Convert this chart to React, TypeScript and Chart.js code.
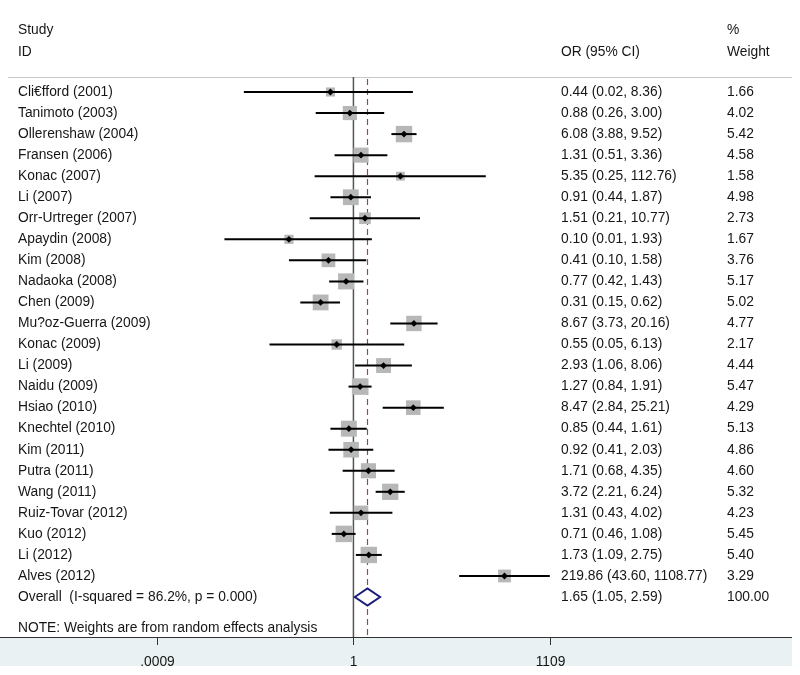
import React, { useEffect, useRef } from "react";
import { Chart, registerables } from "chart.js";

Chart.register(...registerables);

const studies = [
  "Cli€fford (2001)", "Tanimoto (2003)", "Ollerenshaw (2004)", "Fransen (2006)", "Konac (2007)",
  "Li (2007)", "Orr-Urtreger (2007)", "Apaydin (2008)", "Kim (2008)", "Nadaoka (2008)",
  "Chen (2009)", "Mu?oz-Guerra (2009)", "Konac (2009)", "Li (2009)", "Naidu (2009)",
  "Hsiao (2010)", "Knechtel (2010)", "Kim (2011)", "Putra (2011)", "Wang (2011)",
  "Ruiz-Tovar (2012)", "Kuo (2012)", "Li (2012)", "Alves (2012)",
];
const oddsRatio = [0.44, 0.88, 6.08, 1.31, 5.35, 0.91, 1.51, 0.10, 0.41, 0.77, 0.31, 8.67, 0.55, 2.93, 1.27, 8.47, 0.85, 0.92, 1.71, 3.72, 1.31, 0.71, 1.73, 219.86];
const ciLow = [0.02, 0.26, 3.88, 0.51, 0.25, 0.44, 0.21, 0.01, 0.10, 0.42, 0.15, 3.73, 0.05, 1.06, 0.84, 2.84, 0.44, 0.41, 0.68, 2.21, 0.43, 0.46, 1.09, 43.60];
const ciHigh = [8.36, 3.00, 9.52, 3.36, 112.76, 1.87, 10.77, 1.93, 1.58, 1.43, 0.62, 20.16, 6.13, 8.06, 1.91, 25.21, 1.61, 2.03, 4.35, 6.24, 4.02, 1.08, 2.75, 1108.77];
const weights = [1.66, 4.02, 5.42, 4.58, 1.58, 4.98, 2.73, 1.67, 3.76, 5.17, 5.02, 4.77, 2.17, 4.44, 5.47, 4.29, 5.13, 4.86, 4.60, 5.32, 4.23, 5.45, 5.40, 3.29];

const overallLabel = "Overall  (I-squared = 86.2%, p = 0.000)";
const overallOR = 1.65;
const overallLow = 1.05;
const overallHigh = 2.59;
const overallWeight = 100.0;
const noteText = "NOTE: Weights are from random effects analysis";

const axisTicks = [0.0009, 1, 1109];
const axisTickLabels = [".0009", "1", "1109"];

const FONT = "13.8px 'Liberation Sans', Arial, sans-serif";
const TEXT = "#161616";
const BOX_INDEX = 1;

const forestPlugin = {
  id: "forest",
  beforeDatasetsDraw(chart: any) {
    const { ctx, chartArea, scales } = chart;
    const x = scales.x;
    ctx.save();
    // bottom band
    ctx.fillStyle = "#e9f1f3";
    ctx.fillRect(0, chartArea.bottom, chartArea.right, 29);
    // header separator
    ctx.strokeStyle = "#c8c8c8";
    ctx.lineWidth = 1;
    ctx.beginPath();
    ctx.moveTo(8, chartArea.top + 0.5);
    ctx.lineTo(chartArea.right, chartArea.top + 0.5);
    ctx.stroke();
    // null line
    const x1 = x.getPixelForValue(1);
    ctx.strokeStyle = "#555555";
    ctx.lineWidth = 1.5;
    ctx.beginPath();
    ctx.moveTo(x1, chartArea.top);
    ctx.lineTo(x1, chartArea.bottom);
    ctx.stroke();
    // overall dashed line
    const xo = Math.round(x.getPixelForValue(overallOR)) + 0.5;
    ctx.strokeStyle = "#b03c52";
    ctx.lineWidth = 1.2;
    ctx.setLineDash([6, 4]);
    ctx.beginPath();
    ctx.moveTo(xo, chartArea.top + 2);
    ctx.lineTo(xo, chartArea.bottom);
    ctx.stroke();
    ctx.setLineDash([]);
    // axis line
    ctx.strokeStyle = "#333333";
    ctx.lineWidth = 1;
    ctx.beginPath();
    ctx.moveTo(0, chartArea.bottom + 0.5);
    ctx.lineTo(chartArea.right, chartArea.bottom + 0.5);
    ctx.stroke();
    // ticks and labels
    ctx.font = FONT;
    ctx.fillStyle = TEXT;
    ctx.textAlign = "center";
    ctx.textBaseline = "middle";
    axisTicks.forEach((t, i) => {
      const px = Math.round(x.getPixelForValue(t)) + 0.5;
      ctx.strokeStyle = "#333333";
      ctx.beginPath();
      ctx.moveTo(px, chartArea.bottom);
      ctx.lineTo(px, chartArea.bottom + 8);
      ctx.stroke();
      ctx.fillText(axisTickLabels[i], px, chartArea.bottom + 25);
    });
    ctx.restore();
  },
  afterDatasetDraw(chart: any, args: any) {
    if (args.index !== BOX_INDEX) return;
    const { ctx, scales } = chart;
    const x = scales.x;
    const y = scales.y;
    ctx.save();
    ctx.strokeStyle = "#000000";
    ctx.lineWidth = 2;
    studies.forEach((_, i) => {
      const py = y.getPixelForValue(i);
      ctx.beginPath();
      ctx.moveTo(x.getPixelForValue(ciLow[i]), py);
      ctx.lineTo(x.getPixelForValue(ciHigh[i]), py);
      ctx.stroke();
    });
    ctx.restore();
  },
  afterDatasetsDraw(chart: any) {
    const { ctx, scales } = chart;
    const x = scales.x;
    const y = scales.y;
    ctx.save();
    // overall diamond
    const oy = y.getPixelForValue(studies.length);
    const xl = x.getPixelForValue(overallLow);
    const xh = x.getPixelForValue(overallHigh);
    const xc = x.getPixelForValue(overallOR);
    ctx.strokeStyle = "#1c1c7a";
    ctx.fillStyle = "#ffffff";
    ctx.lineWidth = 2;
    ctx.beginPath();
    ctx.moveTo(xl, oy);
    ctx.lineTo(xc, oy - 8.5);
    ctx.lineTo(xh, oy);
    ctx.lineTo(xc, oy + 8.5);
    ctx.closePath();
    ctx.fill();
    ctx.stroke();

    // text
    ctx.font = FONT;
    ctx.fillStyle = TEXT;
    ctx.textAlign = "left";
    ctx.textBaseline = "middle";
    ctx.fillText("Study", 18, 30);
    ctx.fillText("ID", 18, 52);
    ctx.fillText("OR (95% CI)", 561, 52);
    ctx.fillText("%", 727, 30);
    ctx.fillText("Weight", 727, 52);
    studies.forEach((s, i) => {
      const py = y.getPixelForValue(i);
      ctx.fillText(s, 18, py);
      ctx.fillText(`${oddsRatio[i].toFixed(2)} (${ciLow[i].toFixed(2)}, ${ciHigh[i].toFixed(2)})`, 561, py);
      ctx.fillText(weights[i].toFixed(2), 727, py);
    });
    ctx.fillText(overallLabel, 18, oy);
    ctx.fillText(`${overallOR.toFixed(2)} (${overallLow.toFixed(2)}, ${overallHigh.toFixed(2)})`, 561, oy);
    ctx.fillText(overallWeight.toFixed(2), 727, oy);
    ctx.fillText(noteText, 18, y.getPixelForValue(studies.length + 1.47));
    ctx.restore();
  },
};

export default function App() {
  const ref = useRef<HTMLCanvasElement | null>(null);
  useEffect(() => {
    document.body.style.margin = "0";
    const canvas = ref.current;
    if (!canvas) return;
    const maxW = Math.max(...weights);
    const points = studies.map((_, i) => ({ x: oddsRatio[i], y: i }));
    const boxRadius = weights.map((w) => (16.5 * Math.sqrt(w / maxW)) / Math.SQRT2);
    const chart = new Chart(canvas, {
      type: "scatter",
      data: {
        datasets: [
          {
            label: "Point estimate",
            data: points,
            pointStyle: "rectRot",
            pointRadius: 3.4,
            backgroundColor: "#000000",
            borderColor: "#000000",
            borderWidth: 0,
          },
          {
            label: "Study weight",
            data: points,
            pointStyle: "rect",
            pointRadius: boxRadius,
            backgroundColor: "#b7b7b7",
            borderColor: "#b7b7b7",
            borderWidth: 0,
          },
        ],
      },
      options: {
        animation: false,
        responsive: false,
        devicePixelRatio: 1,
        events: [],
        layout: { autoPadding: false, padding: { left: 0, right: 8, top: 77, bottom: 38 } },
        plugins: { legend: { display: false }, tooltip: { enabled: false } },
        scales: {
          x: {
            type: "logarithmic",
            display: false,
            min: Math.pow(10, -5.48),
            max: Math.pow(10, 6.8),
          },
          y: {
            type: "linear",
            display: false,
            reverse: true,
            min: -0.713,
            max: 25.9,
          },
        },
      },
      plugins: [forestPlugin],
    });
    return () => chart.destroy();
  }, []);
  return <canvas ref={ref} width={800} height={675} style={{ display: "block", width: 800, height: 675 }} />;
}
